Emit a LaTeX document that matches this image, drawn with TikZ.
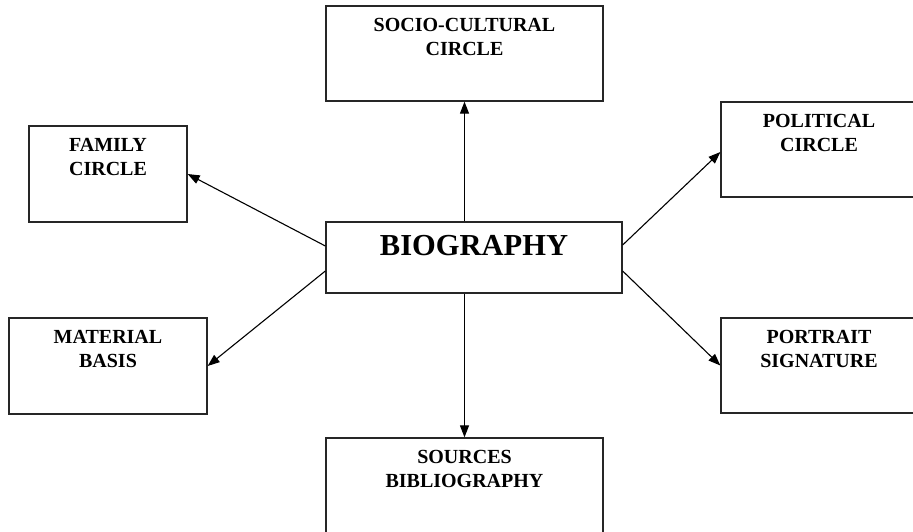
\documentclass[tikz,border=0pt]{standalone}
\usepackage{fontspec}
\setmainfont{Liberation Serif}
\usetikzlibrary{arrows.meta}
\begin{document}
\begin{tikzpicture}[x=1pt,y=-1pt,
  box/.style={draw=black!85, line width=1.3pt, rectangle, inner sep=0pt},
  lbl/.style={anchor=north, inner sep=0pt, align=center, font=\bfseries\fontsize{20}{24}\selectfont},
  big/.style={anchor=north, inner sep=0pt, align=center, font=\bfseries\fontsize{30.5}{36}\selectfont},
  conn/.style={line width=1.1pt, -{Triangle[length=12pt,width=9pt]}}]
\useasboundingbox (0,0) rectangle (913,532);
\clip (0,0) rectangle (913,532);
% boxes
\node[box, minimum width=296pt, minimum height=71pt] (bio) at (474,257.5) {};
\node[box, minimum width=277pt, minimum height=95pt] (soc) at (464.5,53.5) {};
\node[box, minimum width=277pt, minimum height=95pt] (src) at (464.5,485.5) {};
\node[box, minimum width=158pt, minimum height=96pt] (fam) at (108,174) {};
\node[box, minimum width=198pt, minimum height=96pt] (mat) at (108,366) {};
\node[box, minimum width=196pt, minimum height=95pt] (pol) at (819,149.5) {};
\node[box, minimum width=196pt, minimum height=95pt] (por) at (819,365.5) {};
% labels
\node[big] (tbio) at ([yshift=-14pt]bio.north) {BIOGRAPHY};
\node[lbl] (tsoc) at ([yshift=-12.5pt]soc.north) {SOCIO-CULTURAL\\CIRCLE};
\node[lbl] (tsrc) at ([yshift=-12.5pt]src.north) {SOURCES\\BIBLIOGRAPHY};
\node[lbl] (tfam) at ([yshift=-12.5pt]fam.north) {FAMILY\\CIRCLE};
\node[lbl] (tmat) at ([yshift=-12.5pt]mat.north) {MATERIAL\\BASIS};
\node[lbl] (tpol) at ([yshift=-12.5pt]pol.north) {POLITICAL\\CIRCLE};
\node[lbl] (tpor) at ([yshift=-12.5pt]por.north) {PORTRAIT\\SIGNATURE};
% connectors
\draw[conn] (bio.north -| soc.south) -- (soc.south);
\draw[conn] (bio.south -| src.north) -- (src.north);
\draw[conn] ([yshift=11.5pt]bio.west) -- (fam.east);
\draw[conn] ([yshift=-13.5pt]bio.west) -- (mat.east);
\draw[conn] ([yshift=12.5pt]bio.east) -- ([yshift=-2.5pt]pol.west);
\draw[conn] ([yshift=-13.5pt]bio.east) -- (por.west);
\end{tikzpicture}
\end{document}
